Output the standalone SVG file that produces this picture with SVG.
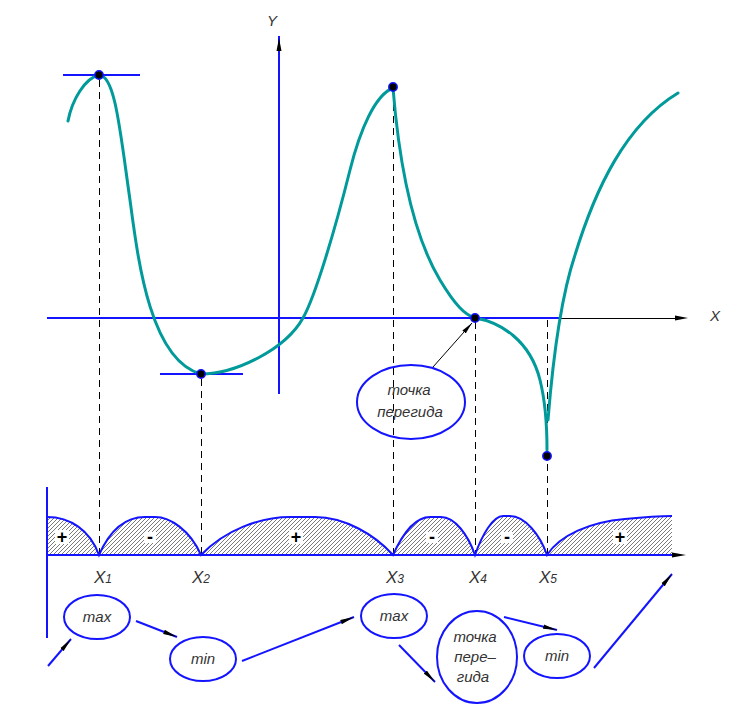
<svg xmlns="http://www.w3.org/2000/svg" width="744" height="718" viewBox="0 0 744 718">
<style>
.ax{stroke:#1414ff;stroke-width:2;fill:none}
.curve{stroke:#009a9a;stroke-width:3;fill:none;stroke-linejoin:round;stroke-linecap:round}
.dash{stroke:#000;stroke-width:1;stroke-dasharray:7,5;fill:none;shape-rendering:crispEdges}
.pt{fill:#000;stroke:#1414ff;stroke-width:1.5}
.hump{fill:url(#hatch);stroke:none}
.humpline{fill:none;stroke:#1414ff;stroke-width:2}
.ell{fill:none;stroke:#1414ff;stroke-width:2}
.lbl{font-family:"Liberation Sans",Arial,sans-serif;font-style:italic;font-size:15px;fill:#333;text-anchor:middle}
.sign{font-family:"Liberation Sans",Arial,sans-serif;font-weight:bold;font-size:18px;fill:#000;text-anchor:middle}
.arr{stroke:#1414ff;stroke-width:2;fill:none;marker-end:url(#ah)}
</style>
<defs>
<pattern id="hatch" patternUnits="userSpaceOnUse" width="4" height="4">
<path d="M-1,1 L1,-1 M0,4 L4,0 M3,5 L5,3" stroke="#222" stroke-width="0.6"/>
</pattern>
<marker id="ah" viewBox="0 0 14 6" refX="14" refY="3" markerWidth="14" markerHeight="6" markerUnits="userSpaceOnUse" orient="auto">
<path d="M0,0.8 L14,3 L0,5.2 z" fill="#000"/>
</marker>
<marker id="ahs" viewBox="0 0 12 6" refX="12" refY="3" markerWidth="12" markerHeight="6" markerUnits="userSpaceOnUse" orient="auto">
<path d="M0,0.8 L12,3 L0,5.2 z" fill="#000"/>
</marker>
</defs>
<rect width="744" height="718" fill="#fff"/>

<g id="axes">
<line class="ax" x1="279" y1="36" x2="279" y2="394"/>
<path d="M279,38 L281.5,51 L276.5,51 z" fill="#000"/>
<line class="ax" x1="47" y1="318" x2="560" y2="318"/>
<line x1="560" y1="318.5" x2="680" y2="318.5" stroke="#000" stroke-width="1"/>
<path d="M688,318 L675,315.5 L675,320.5 z" fill="#000"/>
<text class="lbl" x="272" y="26">Y</text>
<text class="lbl" x="715" y="321">X</text>
<line class="ax" x1="63" y1="75" x2="140" y2="75"/>
<line class="ax" x1="160" y1="374" x2="243" y2="374"/>
</g>

<g id="dashes">
<line class="dash" x1="99.5" y1="80" x2="99.5" y2="555"/>
<line class="dash" x1="201.5" y1="379" x2="201.5" y2="555"/>
<line class="dash" x1="393.5" y1="92" x2="393.5" y2="555"/>
<line class="dash" x1="475.5" y1="322" x2="475.5" y2="555"/>
<line class="dash" x1="547.5" y1="320" x2="547.5" y2="555"/>
</g>

<g id="graph">
<path class="curve" d="M68,121 C72,100 85,78 99,75 C115,75 120,130 130,200 C138,260 150,360 201,374 C235,374 285,350 303,318 C315,297 335,230 350,170 C360,130 375,95 393,88"/>
<path class="curve" d="M393,88 C398,150 410,230 440,280 C455,305 465,315 475,318 C500,322 530,340 540,380 C545,400 547,420 547,450"/>
<path class="curve" d="M548,420 C552,370 560,300 575,255 C595,190 625,125 678,93"/>
</g>

<g id="points">
<circle class="pt" cx="99" cy="75" r="4.2"/>
<circle class="pt" cx="201" cy="374" r="4.2"/>
<circle class="pt" cx="393" cy="87" r="4.2"/>
<circle class="pt" cx="475" cy="318" r="4.2"/>
<circle class="pt" cx="547" cy="456" r="4.2"/>
</g>

<g id="node-inflection-top">
<ellipse class="ell" cx="411" cy="402" rx="54" ry="37"/>
<text class="lbl" x="409" y="395">точка</text>
<text class="lbl" x="410" y="417">перегида</text>
</g>

<g id="sign-chart">
<path class="hump" d="M47,517 C70,517 90,530 99,555 L47,555 Z"/>
<path class="hump" d="M99,555 C110,530 125,517 145,517 L155,517 C170,517 190,530 201,555 Z"/>
<path class="hump" d="M201,555 C225,530 260,517 290,517 L315,517 C345,517 375,535 393,555 Z"/>
<path class="hump" d="M393,555 C402,535 415,517 430,517 L441,517 C455,517 468,535 475,555 Z"/>
<path class="hump" d="M475,555 C482,535 493,516 503,516 L510,516 C525,516 540,535 547,555 Z"/>
<path class="hump" d="M547,555 C560,535 590,522 625,519 C645,517 660,516 672,516 L672,555 Z"/>
<g fill="#fff">
<rect x="55" y="530" width="14" height="14"/>
<rect x="144" y="532" width="12" height="11"/>
<rect x="289" y="530" width="14" height="14"/>
<rect x="426" y="532" width="12" height="11"/>
<rect x="501" y="532" width="12" height="11"/>
<rect x="613" y="530" width="14" height="14"/>
</g>
<text class="sign" x="62" y="543">+</text>
<text class="sign" x="150" y="543">-</text>
<text class="sign" x="296" y="543">+</text>
<text class="sign" x="432" y="543">-</text>
<text class="sign" x="507" y="543">-</text>
<text class="sign" x="620" y="543">+</text>
<path class="humpline" d="M47,517 C70,517 90,530 99,555 C110,530 125,517 145,517 L155,517 C170,517 190,530 201,555 C225,530 260,517 290,517 L315,517 C345,517 375,535 393,555 C402,535 415,517 430,517 L441,517 C455,517 468,535 475,555 C482,535 493,516 503,516 L510,516 C525,516 540,535 547,555 C560,535 590,522 625,519 C645,517 660,516 672,516"/>
<line class="ax" x1="47" y1="487" x2="47" y2="638"/>
<line class="ax" x1="47" y1="555" x2="674" y2="555"/>
<path d="M686,555 L672,552.5 L672,557.5 z" fill="#000"/>
</g>

<g id="xlabels" font-family="'Liberation Sans',Arial,sans-serif" font-style="italic" fill="#333">
<text x="94" y="583" font-size="17">X<tspan font-size="12">1</tspan></text>
<text x="192" y="583" font-size="17">X<tspan font-size="12">2</tspan></text>
<text x="386" y="583" font-size="17">X<tspan font-size="12">3</tspan></text>
<text x="469" y="583" font-size="17">X<tspan font-size="12">4</tspan></text>
<text x="539" y="583" font-size="17">X<tspan font-size="12">5</tspan></text>
</g>

<g id="node-max1">
<ellipse class="ell" cx="97" cy="617" rx="33" ry="22"/>
<text class="lbl" x="97" y="622">max</text>
</g>
<g id="node-min1">
<ellipse class="ell" cx="203" cy="659" rx="33" ry="22"/>
<text class="lbl" x="203" y="664">min</text>
</g>
<g id="node-max2">
<ellipse class="ell" cx="394" cy="616" rx="33" ry="22"/>
<text class="lbl" x="394" y="621">max</text>
</g>
<g id="node-inflection-bottom">
<ellipse class="ell" cx="477" cy="657" rx="40" ry="46"/>
<text class="lbl" x="475" y="642">точка</text>
<text class="lbl" x="475" y="662">пере–</text>
<text class="lbl" x="473" y="682">гида</text>
</g>
<g id="node-min2">
<ellipse class="ell" cx="557" cy="656" rx="33" ry="22"/>
<text class="lbl" x="557" y="661">min</text>
</g>

<g id="connectors">
<line x1="433" y1="367" x2="472" y2="323" stroke="#000" stroke-width="1" marker-end="url(#ahs)"/>
<line class="arr" x1="48" y1="666" x2="71" y2="639"/>
<line class="arr" x1="136" y1="621" x2="177" y2="637"/>
<line class="arr" x1="242" y1="661" x2="354" y2="617"/>
<line class="arr" x1="399" y1="645" x2="435" y2="682"/>
<line class="arr" x1="504" y1="617" x2="557" y2="630"/>
<line class="arr" x1="594" y1="668" x2="672" y2="574"/>
</g>
</svg>
